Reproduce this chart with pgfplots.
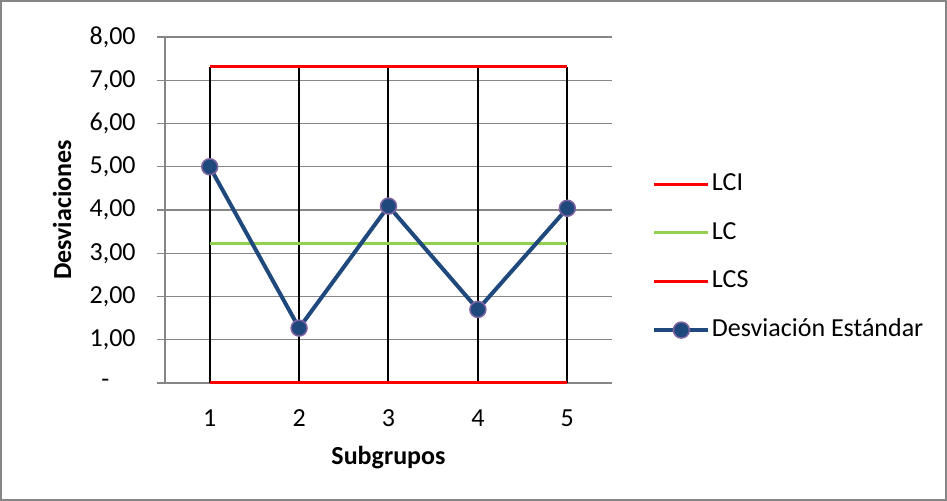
\documentclass[border=0pt]{standalone}
\usepackage{pgfplots}
\pgfplotsset{compat=1.18}
\usepackage{fontspec}
\setmainfont{Carlito}
\definecolor{gridgray}{HTML}{868686}
\definecolor{lcred}{HTML}{FF0000}
\definecolor{lcgreen}{HTML}{92D050}
\definecolor{sdblue}{HTML}{1F497D}
\definecolor{sdedge}{HTML}{8064A2}
\newcommand{\chfont}{\fontsize{13pt}{16pt}\selectfont}
\begin{document}
\chfont
\begin{tikzpicture}
\path[use as bounding box] (-82.5pt,-59pt) rectangle (391pt,191.5pt);
\draw[gridgray, line width=0.75pt] (-82.1pt,-58.6pt) rectangle (390.6pt,191.1pt);
\begin{axis}[
  at={(0,0)}, anchor=south west,
  scale only axis, width=223.5pt, height=173pt,
  xmin=0.5, xmax=5.5, ymin=0, ymax=8,
  axis x line=bottom, axis y line=left,
  axis line style={gridgray, line width=0.6pt, -},
  xtick={1,2,3,4,5}, xticklabels={1,2,3,4,5},
  xtick style={draw=none},
  ytick={0,1,2,3,4,5,6,7,8},
  yticklabels={{-\hphantom{00}},{1,00},{2,00},{3,00},{4,00},{5,00},{6,00},{7,00},{8,00}},
  ytick style={gridgray, line width=0.6pt},
  tick align=outside, major tick length=4pt,
  ymajorgrids, grid style={gridgray, line width=0.6pt},
  yticklabel style={anchor=east, inner sep=0pt, xshift=-10.5pt, font=\chfont},
  xticklabel style={anchor=base, inner sep=0pt, yshift=-18pt, font=\chfont},
  xlabel={\textbf{Subgrupos}}, ylabel={\textbf{Desviaciones}},
  xlabel style={at={(axis description cs:0.5,-0.2168)}, anchor=center, font=\chfont},
  ylabel style={at={(axis description cs:-0.2304,0.5)}, anchor=center, font=\chfont},
  legend style={at={(axis description cs:1.0895,0.364)}, anchor=west, draw=none, fill=none,
    inner sep=0pt, row sep=11.65pt,
    nodes={inner xsep=0.8pt, inner ysep=0pt, text height=9.5pt, text depth=3.2pt, font=\chfont}},
  legend cell align=left,
  legend image code/.code={\draw[mark repeat=2,mark phase=2,#1] plot coordinates {(0pt,0pt) (13.5pt,0pt) (27pt,0pt)};},
  clip=false,
]
\addplot[black, line width=1pt, ycomb, forget plot] coordinates {(1,7.31) (2,7.31) (3,7.31) (4,7.31) (5,7.31)};
\addplot[lcred, line width=1.5pt] coordinates {(1,0) (2,0) (3,0) (4,0) (5,0)};
\addlegendentry{LCI}
\addplot[lcgreen, line width=1.5pt] coordinates {(1,3.22) (2,3.22) (3,3.22) (4,3.22) (5,3.22)};
\addlegendentry{LC}
\addplot[lcred, line width=1.5pt] coordinates {(1,7.31) (2,7.31) (3,7.31) (4,7.31) (5,7.31)};
\addlegendentry{LCS}
\addplot[sdblue, line width=2pt, mark=*, mark size=4pt,
  mark options={fill=sdblue, draw=sdedge, line width=0.75pt}] coordinates {(1,5.00) (2,1.27) (3,4.09) (4,1.70) (5,4.04)};
\addlegendentry{Desviación Estándar}
\end{axis}
\end{tikzpicture}
\end{document}
